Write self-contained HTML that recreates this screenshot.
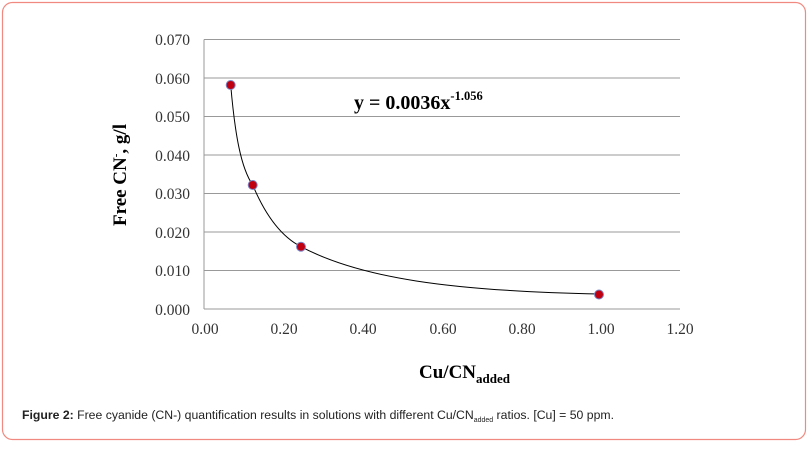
<!DOCTYPE html>
<html><head><meta charset="utf-8"><style>
body{margin:0;background:#fff;width:810px;height:444px;overflow:hidden}
</style></head><body>
<svg width="810" height="444" xmlns="http://www.w3.org/2000/svg">
<rect x="2.5" y="2.5" width="803" height="437" rx="10" fill="#fff" stroke="#f08a80" stroke-width="1.2"/>
<g stroke="#999" stroke-width="1">
<line x1="204" y1="39.5" x2="680" y2="39.5"/>
<line x1="204" y1="78" x2="680" y2="78"/>
<line x1="204" y1="116.5" x2="680" y2="116.5"/>
<line x1="204" y1="155" x2="680" y2="155"/>
<line x1="204" y1="193.5" x2="680" y2="193.5"/>
<line x1="204" y1="232" x2="680" y2="232"/>
<line x1="204" y1="270.5" x2="680" y2="270.5"/>
<line x1="204" y1="309" x2="680" y2="309"/>
<line x1="204" y1="39.5" x2="204" y2="309"/>
</g>
<g font-family="Liberation Serif, serif" font-size="15.5" fill="#333" text-anchor="end">
<text x="190" y="45">0.070</text>
<text x="190" y="84">0.060</text>
<text x="190" y="122">0.050</text>
<text x="190" y="161">0.040</text>
<text x="190" y="199">0.030</text>
<text x="190" y="238">0.020</text>
<text x="190" y="276">0.010</text>
<text x="190" y="315">0.000</text>
</g>
<g font-family="Liberation Serif, serif" font-size="15.5" fill="#333" text-anchor="middle">
<text x="205" y="334">0.00</text>
<text x="284" y="334">0.20</text>
<text x="363" y="334">0.40</text>
<text x="443" y="334">0.60</text>
<text x="522" y="334">0.80</text>
<text x="601" y="334">1.00</text>
<text x="680" y="334">1.20</text>
</g>
<path d="M230.7,85 C235,135 241,168 252.7,185 C264,212 280,236 301,246.7 C360,278 450,291 599,294" fill="none" stroke="#000" stroke-width="1"/>
<g fill="#c00010" stroke="#7a86c8" stroke-width="1">
<circle cx="230.7" cy="85" r="4.5"/>
<circle cx="252.7" cy="185" r="4.5"/>
<circle cx="301" cy="246.7" r="4.5"/>
<circle cx="599" cy="294.5" r="4.5"/>
</g>
<text x="354" y="109" font-family="Liberation Serif, serif" font-size="20" font-weight="bold">y = 0.0036x<tspan font-size="12.5" dy="-9">-1.056</tspan></text>
<text transform="translate(126,175) rotate(-90)" text-anchor="middle" font-family="Liberation Serif, serif" font-size="19" font-weight="bold">Free CN<tspan font-size="11" dy="-7">-</tspan><tspan dy="7">, g/l</tspan></text>
<text x="419" y="378" font-family="Liberation Serif, serif" font-size="19" font-weight="bold">Cu/CN<tspan font-size="13" dy="5">added</tspan></text>
<text x="22" y="419" font-family="Liberation Sans, sans-serif" font-size="12.3" fill="#222" textLength="592" lengthAdjust="spacingAndGlyphs"><tspan font-weight="bold">Figure 2:</tspan> Free cyanide (CN-) quantification results in solutions with different Cu/CN<tspan font-size="7" dy="3">added</tspan><tspan dy="-3"> ratios. [Cu] = 50 ppm.</tspan></text>
</svg>
</body></html>
